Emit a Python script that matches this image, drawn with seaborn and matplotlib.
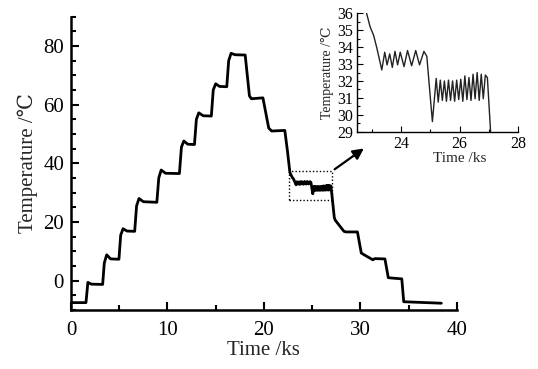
import matplotlib
matplotlib.use("Agg")
import matplotlib.pyplot as plt
from matplotlib.patches import Rectangle
from matplotlib.ticker import MultipleLocator
import pandas as pd
import seaborn as sns

# Heating staircase up to the 77 °C hold and the first cooling steps (ks, °C)
ramp_time = [0.0, 1.55, 1.75, 2.1, 3.28, 3.45, 3.7, 4.1, 4.97, 5.15, 5.4, 5.8,
             6.6, 6.8, 7.05, 7.5, 8.9, 9.1, 9.35, 9.8, 11.24, 11.45, 11.7, 12.1,
             12.8, 13.0, 13.25, 13.7, 14.55, 14.75, 15.0, 15.4, 16.15, 16.35,
             16.6, 17.0, 18.06, 18.5, 18.7, 19.9, 20.5, 20.8, 22.17, 22.45, 22.7]
ramp_temp = [-7.5, -7.5, -0.6, -1.2, -1.3, 6.0, 8.8, 7.4, 7.3, 15.5, 17.7, 16.9,
             16.8, 25.5, 28.0, 26.9, 26.7, 35.0, 37.7, 36.6, 36.5, 45.5, 47.6, 46.5,
             46.4, 55.0, 57.2, 56.2, 56.1, 65.0, 67.1, 66.2, 66.1, 75.0, 77.5,
             77.0, 76.9, 63.0, 62.0, 62.3, 52.0, 51.0, 51.2, 44.0, 36.8]

# Oscillating holds near 33 °C and 31.5 °C (shown enlarged in the inset)
hold_time = [22.94, 23.06, 23.17, 23.34, 23.44, 23.52, 23.61, 23.70, 23.79, 23.88,
             23.97, 24.10, 24.22, 24.36, 24.50, 24.63, 24.78, 24.88, 24.99, 25.07,
             25.20, 25.27, 25.34, 25.41, 25.48, 25.55, 25.62, 25.69, 25.76, 25.83,
             25.90, 25.97, 26.04, 26.11, 26.18, 26.25, 26.32, 26.39, 26.46, 26.53,
             26.60, 26.67, 26.74, 26.81, 26.88, 26.95, 27.06]
hold_temp = [35.2, 34.7, 33.95, 32.65, 33.70, 32.95, 33.60, 32.80, 33.75, 32.95,
             33.70, 32.85, 33.80, 32.90, 33.80, 32.95, 33.75, 33.45, 31.20, 29.60,
             32.15, 30.75, 32.05, 30.85, 32.00, 30.80, 32.05, 30.85, 32.00, 30.80,
             32.05, 30.90, 32.10, 30.80, 32.30, 30.90, 32.20, 30.85, 32.40, 30.95,
             32.50, 30.85, 32.40, 30.95, 32.35, 32.20, 29.00]

# Remaining cooling steps down to the final -7.5 °C level
tail_time = [27.3, 27.4, 28.3, 28.5, 29.7, 30.1, 30.5, 31.3, 31.5, 32.55, 32.9,
             33.2, 34.3, 34.5, 38.4]
tail_temp = [21.5, 20.6, 16.8, 16.6, 16.6, 9.4, 8.6, 7.1, 7.5, 7.4, 1.0,
             0.9, 0.6, -7.2, -7.7]

df = pd.DataFrame({
    "time": ramp_time + hold_time + tail_time,
    "temp": ramp_temp + hold_temp + tail_temp,
})

sns.set_theme(style="ticks")
plt.rcParams["font.family"] = ["Liberation Serif", "DejaVu Serif"]
plt.rcParams["axes.edgecolor"] = "black"
plt.rcParams["xtick.color"] = "black"
plt.rcParams["ytick.color"] = "black"

fig = plt.figure(figsize=(5.38, 3.69), dpi=100)
fig.patch.set_facecolor("white")

# Main axes
ax = fig.add_axes([0.132, 0.160, 0.717, 0.795])
sns.lineplot(data=df, x="time", y="temp", sort=False, estimator=None,
             color="black", lw=2.0, legend=False, ax=ax)
ax.set_xlim(0, 40)
ax.set_ylim(-10, 90)
ax.xaxis.set_major_locator(MultipleLocator(10))
ax.xaxis.set_minor_locator(MultipleLocator(5))
ax.yaxis.set_major_locator(MultipleLocator(20))
ax.yaxis.set_minor_locator(MultipleLocator(5))
ax.tick_params(which="both", direction="in", width=1.5, labelsize=15)
ax.tick_params(which="major", length=6)
ax.tick_params(which="minor", length=3.5)
ax.tick_params(axis="x", pad=8)
ax.tick_params(axis="y", pad=5)
for side in ("top", "right"):
    ax.spines[side].set_visible(False)
for side in ("left", "bottom"):
    ax.spines[side].set_linewidth(1.8)
ax.set_xlabel("Time /ks", fontsize=15, labelpad=1)
ax.set_ylabel("Temperature /℃", fontsize=15, labelpad=4)

# Zoom window and pointer to the inset
ax.add_patch(Rectangle((22.65, 27.4), 4.45, 10.0, fill=False, ec="black",
                       lw=1.0, ls=(0, (1, 1.5))))
ax.annotate("", xy=(30.6, 45.6), xytext=(27.1, 37.4),
            arrowprops=dict(arrowstyle="-|>", color="black", lw=1.6,
                            mutation_scale=16))

# Inset axes
ins = fig.add_axes([0.664, 0.643, 0.299, 0.321])
sns.lineplot(data=df, x="time", y="temp", sort=False, estimator=None,
             color="#222222", lw=1.0, legend=False, ax=ins)
ins.set_xlim(22.5, 28)
ins.set_ylim(29, 36)
ins.xaxis.set_major_locator(MultipleLocator(2))
ins.xaxis.set_minor_locator(MultipleLocator(1))
ins.yaxis.set_major_locator(MultipleLocator(1))
ins.yaxis.set_minor_locator(MultipleLocator(0.5))
ins.tick_params(which="both", direction="in", width=0.8, labelsize=11.5, pad=3)
ins.tick_params(which="major", length=4)
ins.tick_params(which="minor", length=2)
for side in ("top", "right"):
    ins.spines[side].set_visible(False)
for side in ("left", "bottom"):
    ins.spines[side].set_linewidth(1.0)
ins.set_xlabel("Time /ks", fontsize=11)
ins.xaxis.set_label_coords(0.636, -0.17)
ins.set_ylabel("Temperature /℃", fontsize=10, labelpad=2)

fig.savefig("out.png", dpi=100, facecolor="white")
